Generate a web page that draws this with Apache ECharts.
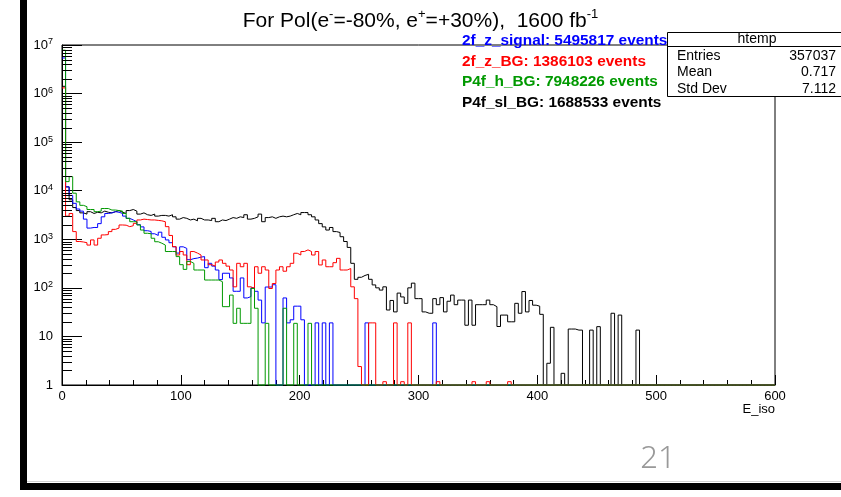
<!DOCTYPE html>
<html>
<head>
<meta charset="utf-8">
<script src="https://cdn.jsdelivr.net/npm/echarts@6/dist/echarts.min.js"></script>
<style>
html, body { margin: 0; padding: 0; background: #fff; }
#chart { width: 841px; height: 497px; }
</style>
</head>
<body>
<div id="chart"></div>
<script>
// E_iso histograms: 200 bins of width 3 between 0 and 600, log y scale
const BIN_WIDTH = 3;
const X_MIN = 0;
const X_MAX = 600;
const Y_MIN = 1;
const Y_MAX = 1e7;
const FONT = "'Liberation Sans', Arial, Helvetica, sans-serif";

const seriesNames = [
  '2f_z_signal: 5495817 events',
  '2f_z_BG: 1386103 events',
  'P4f_h_BG: 7948226 events',
  'P4f_sl_BG: 1688533 events'
];
const seriesColors = ['#0000ff', '#ff0000', '#009900', '#000000'];
const xAxisTitle = 'E_iso';

// bin contents, one entry per bin
const slCounts = [
  1410000, 12000, 6500, 4500, 3900, 3500, 3300, 3700, 3400, 3600,
  3500, 3800, 3600, 3500, 3700, 3900, 3600, 3400, 3900, 4100,
  3800, 3300, 3500, 3200, 3100, 3300, 3000, 3100, 3100, 3000,
  3200, 2900, 2600, 2800, 2700, 2500, 2600, 2400, 2700, 2500,
  2500, 2430, 2700, 2300, 2500, 2430, 2600, 2800, 2700, 2900,
  2800, 3200, 2600, 2700, 2900, 3300, 2300, 2800, 2900, 2700,
  2900, 3000, 2900, 3000, 3200, 3400, 3200, 3550, 3550, 3200,
  2900, 2500, 2100, 1800, 1550, 1750, 1440, 1380, 1130, 900,
  680, 320, 150, 165, 180, 190, 150, 115, 100, 90,
  105, 35, 55, 32, 78, 65, 48, 100, 125, 60,
  60, 32, 30, 30, 60, 45, 63, 32, 53, 71,
  45, 56, 56, 17, 56, 17, 45, 45, 45, 56,
  45, 41, 16, 27.5, 27.5, 20, 20, 48, 30, 84,
  32, 55, 44, 42, 28.5, 0, 2.8, 15.4, 0, 0,
  1.74, 0, 14.2, 14.2, 13.5, 13.5, 0, 0, 13.5, 0,
  15.9, 0, 0, 0, 30, 0, 27.5, 0, 0, 0,
  0, 13.5, 0, 0, 0, 0, 0, 0, 0, 0,
  0, 0, 0, 0, 0, 0, 0, 0, 0, 0,
  0, 0, 0, 0, 0, 0, 0, 0, 0, 0,
  0, 0, 0, 0, 0, 0, 0, 0, 0, 0
];

const signalCounts = [
  5400000, 12000, 8000, 5500, 4200, 3800, 2600, 1700, 1750, 1750,
  2100, 2900, 3400, 3500, 3700, 3600, 3400, 3000, 2700, 2500,
  2300, 2000, 1800, 1500, 1450, 1300, 1200, 1400, 1100, 970,
  850, 700, 520, 700, 650, 380, 400, 410, 430, 440,
  260, 320, 280, 233, 148, 200, 200, 160, 85, 85,
  160, 62, 66, 100, 85, 56, 19, 104, 104, 116,
  0, 0, 62, 19, 22, 42, 42, 22, 0, 0,
  0, 19, 0, 19, 0, 19, 0, 0, 0, 0,
  0, 0, 0, 0, 0, 19, 0, 0, 0, 0,
  0, 0, 0, 0, 0, 0, 0, 0, 0, 0,
  0, 0, 0, 0, 19, 0, 0, 0, 0, 0,
  0, 0, 0, 0, 0, 0, 0, 0, 0, 0,
  0, 0, 0, 0, 0, 0, 0, 0, 0, 0,
  0, 0, 0, 0, 0, 0, 0, 0, 0, 0,
  0, 0, 0, 0, 0, 0, 0, 0, 0, 0,
  0, 0, 0, 0, 0, 0, 0, 0, 0, 0,
  0, 0, 0, 0, 0, 0, 0, 0, 0, 0,
  0, 0, 0, 0, 0, 0, 0, 0, 0, 0,
  0, 0, 0, 0, 0, 0, 0, 0, 0, 0,
  0, 0, 0, 0, 0, 0, 0, 0, 0, 0
];

const zbgCounts = [
  1310000, 3000, 3400, 1440, 900, 880, 850, 760, 970, 760,
  1050, 1230, 1250, 1440, 1600, 1700, 1970, 1950, 1820, 1900,
  2130, 2500, 2600, 2550, 2500, 2500, 2450, 2400, 2300, 1820,
  1200, 705, 475, 560, 475, 300, 560, 520, 475, 375,
  375, 300, 280, 340, 375, 320, 280, 233, 105, 320,
  272, 320, 105, 97, 272, 200, 272, 233, 97, 123,
  233, 272, 220, 272, 320, 516, 475, 560, 605, 560,
  475, 560, 296, 375, 272, 272, 330, 405, 233, 233,
  250, 105, 60, 2.4, 0, 0, 19, 19, 0, 0,
  1.17, 0, 0, 19, 0, 1.17, 0, 19, 0, 0,
  0, 0, 0, 0, 0, 1.17, 0, 0, 0, 0,
  0, 0, 0, 0, 0, 1.17, 0, 0, 0, 1.17,
  0, 0, 0, 0, 0, 1.17, 0, 0, 0, 0,
  0, 0, 0, 0, 0, 0, 0, 0, 0, 0,
  0, 0, 0, 0, 0, 0, 0, 0, 0, 0,
  0, 0, 0, 0, 0, 0, 0, 0, 0, 0,
  0, 0, 0, 0, 0, 0, 0, 0, 0, 0,
  0, 0, 0, 0, 0, 0, 0, 0, 0, 0,
  0, 0, 0, 0, 0, 0, 0, 0, 0, 0,
  0, 0, 0, 0, 0, 0, 0, 0, 0, 0
];

const hCounts = [
  7800000, 15400, 19500, 8900, 5900, 5000, 4700, 4100, 4100, 3700,
  3800, 4300, 4300, 4000, 4000, 3900, 3800, 3400, 2700, 2300,
  2300, 1970, 1550, 1330, 1300, 1050, 890, 830, 760, 560,
  560, 560, 440, 300, 240, 350, 320, 233, 233, 233,
  145, 145, 145, 145, 134, 41, 41, 71, 18.6, 38,
  18.6, 18.6, 18.6, 97, 38, 0, 0, 18.6, 0, 0,
  0, 0, 38, 0, 0, 18.6, 0, 0, 0, 18.6,
  0, 0, 0, 0, 0, 0, 0, 0, 0, 0,
  0, 0, 0, 0, 0, 0, 0, 0, 0, 0,
  0, 0, 0, 0, 0, 0, 0, 0, 0, 0,
  0, 0, 0, 0, 0, 0, 0, 0, 0, 0,
  0, 0, 0, 0, 0, 0, 0, 0, 0, 0,
  0, 0, 0, 0, 0, 0, 0, 0, 0, 0,
  0, 0, 0, 0, 0, 0, 0, 0, 0, 0,
  0, 0, 0, 0, 0, 0, 0, 0, 0, 0,
  0, 0, 0, 0, 0, 0, 0, 0, 0, 0,
  0, 0, 0, 0, 0, 0, 0, 0, 0, 0,
  0, 0, 0, 0, 0, 0, 0, 0, 0, 0,
  0, 0, 0, 0, 0, 0, 0, 0, 0, 0,
  0, 0, 0, 0, 0, 0, 0, 0, 0, 0
];

// y axis decades (exponents of 10) that carry a label
const yTickExponents = [0, 1, 2, 3, 4, 5, 6, 7];
// statistics box of the htemp histogram
const statsTitle = 'htemp';
const statsLabels = ['Entries', 'Mean', 'Std Dev'];
const statsValues = ['357037', '0.717', '7.112'];
const pageNumber = '21';

// empty bins sit on the bottom of the frame, as in ROOT
function toSteps(counts) {
  const pts = counts.map((v, i) => [X_MIN + i * BIN_WIDTH, Math.max(v, Y_MIN)]);
  pts.push([X_MAX, Math.max(counts[counts.length - 1], Y_MIN)]);
  return pts;
}

// log minor ticks at 2..9 x 10^k
const yMinorTicks = [];
for (let k = 0; k < 7; k++) {
  for (let m = 2; m <= 9; m++) yMinorTicks.push(m * Math.pow(10, k));
}

const drawOrder = [
  { counts: slCounts, idx: 3 },
  { counts: signalCounts, idx: 0 },
  { counts: zbgCounts, idx: 1 },
  { counts: hCounts, idx: 2 }
];

const histSeries = drawOrder.map(d => ({
  type: 'line',
  name: seriesNames[d.idx],
  data: toSteps(d.counts),
  step: 'end',
  showSymbol: false,
  symbol: 'none',
  clip: false,
  silent: true,
  animation: false,
  z: 2,
  lineStyle: { color: seriesColors[d.idx], width: 1 },
  itemStyle: { color: seriesColors[d.idx] }
}));

const legendTops = [33, 54, 74, 95];
const legends = seriesNames.map((n, i) => ({
  data: [{ name: n, textStyle: { color: seriesColors[i] } }],
  left: 457,
  top: legendTops[i],
  orient: 'vertical',
  icon: 'rect',
  itemWidth: 0,
  itemHeight: 14,
  padding: 0,
  selectedMode: false,
  z: 20,
  textStyle: { fontFamily: FONT, fontSize: 15.4, fontWeight: 'bold' }
}));

const statsElems = [
  { type: 'rect', z: 100, shape: { x: 667.5, y: 32.5, width: 300, height: 64 },
    style: { fill: '#fff', stroke: '#000', lineWidth: 1 } },
  { type: 'line', z: 101, shape: { x1: 667.5, y1: 46.5, x2: 900, y2: 46.5 },
    style: { stroke: '#000', lineWidth: 1 } },
  { type: 'text', z: 101, x: 757, y: 39,
    style: { text: statsTitle, font: '14px ' + FONT, fill: '#000', align: 'center', verticalAlign: 'middle' } }
];
const statsRowY = [56, 72.5, 89];
statsLabels.forEach((lab, i) => {
  statsElems.push({ type: 'text', z: 101, x: 677, y: statsRowY[i],
    style: { text: lab, font: '14px ' + FONT, fill: '#000', align: 'left', verticalAlign: 'middle' } });
  statsElems.push({ type: 'text', z: 101, x: 836, y: statsRowY[i],
    style: { text: statsValues[i], font: '14px ' + FONT, fill: '#000', align: 'right', verticalAlign: 'middle' } });
});

const chart = echarts.init(document.getElementById('chart'), null, { renderer: 'canvas' });
chart.setOption({
  animation: false,
  backgroundColor: '#fff',
  title: {
    text: '{t|For Pol(e}{s|-}{t|=-80%, e}{s|+}{t|=+30%),  1600 fb}{s|-1}',
    left: 'center',
    top: 8,
    padding: 0,
    textStyle: {
      fontWeight: 'normal',
      rich: {
        t: { fontFamily: FONT, fontSize: 21, fontWeight: 'normal', color: '#000', lineHeight: 26 },
        s: { fontFamily: FONT, fontSize: 13, fontWeight: 'normal', color: '#000', lineHeight: 10, verticalAlign: 'top' }
      }
    }
  },
  legend: legends,
  grid: {
    left: 62, top: 45, width: 713, height: 340,
    show: true, borderColor: '#000', borderWidth: 1, backgroundColor: 'transparent',
    containLabel: false, outerBoundsMode: 'none'
  },
  xAxis: {
    type: 'value', min: X_MIN, max: X_MAX, interval: 100,
    axisLine: { show: true, lineStyle: { color: '#000', width: 1 } },
    axisTick: { show: true, inside: true, length: 10, lineStyle: { color: '#000' } },
    minorTick: { show: true, splitNumber: 5, length: 5, lineStyle: { color: '#000' } },
    splitLine: { show: false },
    minorSplitLine: { show: false },
    axisLabel: { fontFamily: FONT, fontSize: 13, color: '#000', margin: 5 }
  },
  yAxis: {
    type: 'log', logBase: 10, min: Y_MIN, max: Y_MAX,
    axisLine: { show: true, lineStyle: { color: '#000', width: 1 } },
    axisTick: { show: true, inside: true, length: 20, lineStyle: { color: '#000' } },
    splitLine: { show: false },
    axisLabel: {
      fontFamily: FONT, fontSize: 13, color: '#000', margin: 9,
      formatter: v => {
        const e = Math.round(Math.log10(v));
        if (yTickExponents.indexOf(e) < 0) return '';
        if (e === 0) return '{b|1}';
        if (e === 1) return '{b|10}';
        return '{b|10}{s|' + e + '}';
      },
      rich: {
        b: { fontFamily: FONT, fontSize: 13, color: '#000', lineHeight: 15 },
        s: { fontFamily: FONT, fontSize: 9, color: '#000', lineHeight: 9, verticalAlign: 'top' }
      }
    }
  },
  series: histSeries.concat([{
    type: 'custom',
    name: 'y minor ticks',
    silent: true,
    animation: false,
    clip: false,
    z: 3,
    data: yMinorTicks.map(v => [X_MIN, v]),
    renderItem: (params, api) => {
      const p = api.coord([api.value(0), api.value(1)]);
      const y = Math.round(p[1]) + 0.5;
      return {
        type: 'line',
        shape: { x1: p[0], y1: y, x2: p[0] + 10, y2: y },
        style: { stroke: '#000', lineWidth: 1 }
      };
    }
  }]),
  graphic: [
    { type: 'rect', z: 100, shape: { x: 20, y: 0, width: 7, height: 490 }, style: { fill: '#000' } },
    { type: 'rect', z: 100, shape: { x: 20, y: 483, width: 821, height: 7 }, style: { fill: '#000' } },
    { type: 'line', z: 100, shape: { x1: 27, y1: 481.5, x2: 841, y2: 481.5 }, style: { stroke: '#d0d0d0', lineWidth: 1 } },
    { type: 'text', z: 100, x: 775, y: 409,
      style: { text: xAxisTitle, font: '13px ' + FONT, fill: '#000', align: 'right', verticalAlign: 'middle' } },
    { type: 'text', z: 100, x: 658, y: 459,
      style: { text: pageNumber, font: "300 31px 'Noto Sans', 'Open Sans', sans-serif", fill: '#999999', align: 'center', verticalAlign: 'middle' } }
  ].concat(statsElems)
});
</script>
</body>
</html>
